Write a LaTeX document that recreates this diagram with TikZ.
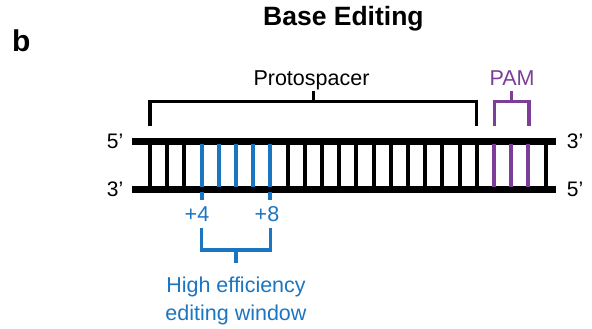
\documentclass[tikz,border=0pt]{standalone}
\usepackage{fontspec}
\setmainfont{Liberation Sans}
\definecolor{edblue}{RGB}{28,117,192}
\definecolor{pampurple}{RGB}{124,62,152}
\begin{document}
\begin{tikzpicture}[x=1pt,y=-1pt,
  strand/.style={line width=6.5pt},
  rung/.style={line width=4pt},
  brk/.style={line width=3.5pt},
  lbl/.style={font=\fontsize{21.5}{25}\selectfont, anchor=base, inner sep=0pt},
  endlbl/.style={font=\fontsize{21}{25}\selectfont, anchor=center, inner sep=0pt}]
\useasboundingbox (0,0) rectangle (592,329);
% title and panel letter
\node[font=\fontsize{26.5}{30}\selectfont\bfseries, anchor=base west, inner sep=0pt] (title) at (263,26) {Base Editing};
\node[font=\fontsize{30}{36}\selectfont\bfseries, anchor=base west, inner sep=0pt] (panel) at (12,51.5) {b};
% strands
\coordinate (t1) at (132,141.5); \coordinate (t2) at (556,141.5);
\coordinate (b1) at (132,189.5); \coordinate (b2) at (556,189.5);
\draw[strand] (t1) -- (t2);
\draw[strand] (b1) -- (b2);
% rungs
\foreach \k in {0,...,23}{
  \pgfmathsetmacro{\xx}{150+17.2*\k}
  \ifnum\k<3 \def\rc{black}\else\ifnum\k<8 \def\rc{edblue}\else\ifnum\k<20 \def\rc{black}\else\ifnum\k<23 \def\rc{pampurple}\else\def\rc{black}\fi\fi\fi\fi
  \coordinate (r\k t) at (\xx,144);
  \coordinate (r\k b) at (\xx,187);
  \draw[rung, draw=\rc] (r\k t) -- (r\k b);
}
% end labels
\node[endlbl] (l5) at (115,141.5) {5’};
\node[endlbl] (l3) at (115,189.5) {3’};
\node[endlbl] (r3) at (575,141.5) {3’};
\node[endlbl] (r5) at (575,189.5) {5’};
% protospacer bracket
\coordinate (pm) at (313.3,101.5); \coordinate (pt) at (313.3,91.5);
\draw[brk, line join=miter] (150,126) -- (150,101.5) -- (476.7,101.5) -- (476.7,126);
\draw[brk] (pm) -- (pt);
\node[lbl] (proto) at (311.5,85) {Protospacer};
% PAM bracket
\draw[brk, draw=pampurple] (494.4,126) -- (494.4,101.5) -- (528.8,101.5) -- (528.8,126);
\coordinate (am) at (511.6,101.5); \coordinate (at) at (511.6,91.5);
\draw[brk, draw=pampurple] (am) -- (at);
\node[lbl, text=pampurple] (pam) at (512,85) {PAM};
% editing window ticks
\coordinate (w4a) at (201.6,192); \coordinate (w4b) at (201.6,200);
\coordinate (w8a) at (270.4,192); \coordinate (w8b) at (270.4,200);
\draw[rung, draw=edblue] (w4a) -- (w4b);
\draw[rung, draw=edblue] (w8a) -- (w8b);
\node[lbl, text=edblue] (p4) at (197,221) {+4};
\node[lbl, text=edblue] (p8) at (267,221) {+8};
% editing window bracket
\draw[brk, draw=edblue] (201.6,228) -- (201.6,250) -- (270.4,250) -- (270.4,228);
\coordinate (wm) at (236,250); \coordinate (wt) at (236,262.5);
\draw[brk, draw=edblue] (wm) -- (wt);
\node[lbl, text=edblue] (hi1) at (236,292.5) {High efficiency};
\node[lbl, text=edblue] (hi2) at (236,320) {editing window};
\end{tikzpicture}
\end{document}
